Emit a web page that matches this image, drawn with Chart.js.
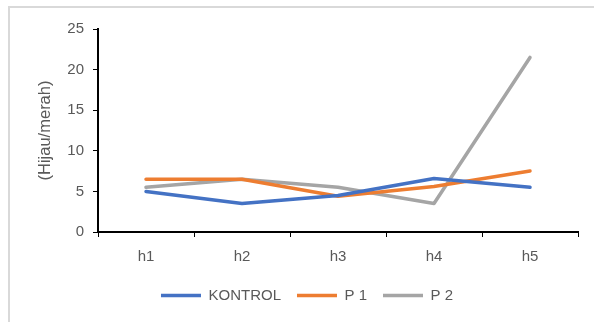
<!DOCTYPE html>
<html><head><meta charset="utf-8">
<script src="https://cdn.jsdelivr.net/npm/chart.js@4/dist/chart.umd.min.js"></script>
<style>
html,body{margin:0;padding:0;background:#fff;}
#wrap{position:relative;width:594px;height:322px;}
#frame{position:absolute;left:8px;top:6px;width:590px;height:320px;border-top:2px solid #d9d9d9;border-left:2px solid #d9d9d9;}
canvas{position:absolute;left:0;top:0;}
</style></head>
<body><div id="wrap"><div id="frame"></div><canvas id="c" width="594" height="322"></canvas></div>
<script>
const categories = ['h1','h2','h3','h4','h5'];
const kontrol = [5, 3.5, 4.5, 6.6, 5.5];
const p1 = [6.5, 6.5, 4.4, 5.6, 7.5];
const p2 = [5.5, 6.5, 5.5, 3.5, 21.5];
const yTicks = [0, 5, 10, 15, 20, 25];
const yTitle = '(Hijau/merah)';

const FONT = "'Liberation Sans', Arial, sans-serif";
const txt = '#595959';
function ds(label, data, color){
  return {label, data, borderColor: color, backgroundColor: color, borderWidth: 3.5,
    pointRadius: 0, pointHoverRadius: 0, tension: 0, borderCapStyle: 'round', borderJoinStyle: 'round'};
}
new Chart(document.getElementById('c'), {
  type: 'line',
  data: { labels: categories, datasets: [ds('KONTROL', kontrol, '#4472C4'), ds('P 1', p1, '#ED7D31'), ds('P 2', p2, '#A5A5A5')] },
  options: {
    responsive: false, animation: false,
    layout: { padding: { left: 36, right: 16, top: 29, bottom: 9 } },
    plugins: {
      legend: { position: 'bottom', labels: { usePointStyle: true, pointStyle: 'line', pointStyleWidth: 40,
        color: txt, font: { family: FONT, size: 15 }, padding: 16, boxHeight: 15 } },
      tooltip: { enabled: false }
    },
    scales: {
      x: { offset: true,
        grid: { offset: true, drawOnChartArea: false, drawTicks: true, tickLength: 5, color: '#000', lineWidth: 1 },
        border: { color: '#000', width: 2 },
        ticks: { color: txt, font: { family: FONT, size: 15 }, padding: 11 },
        afterFit: s => { s.height = 40; }
      },
      y: { min: 0, max: 25,
        afterBuildTicks: s => { s.ticks = yTicks.map(v => ({value: v})); },
        grid: { drawOnChartArea: false, drawTicks: true, tickLength: 5, color: '#000' },
        border: { color: '#000', width: 2 },
        ticks: { color: txt, font: { family: FONT, size: 15 }, padding: 9 },
        title: { display: true, text: yTitle, color: txt, font: { family: FONT, size: 16.5 }, padding: 0 },
        afterFit: s => { s.width = 62; }
      }
    }
  }
});
</script></body></html>
